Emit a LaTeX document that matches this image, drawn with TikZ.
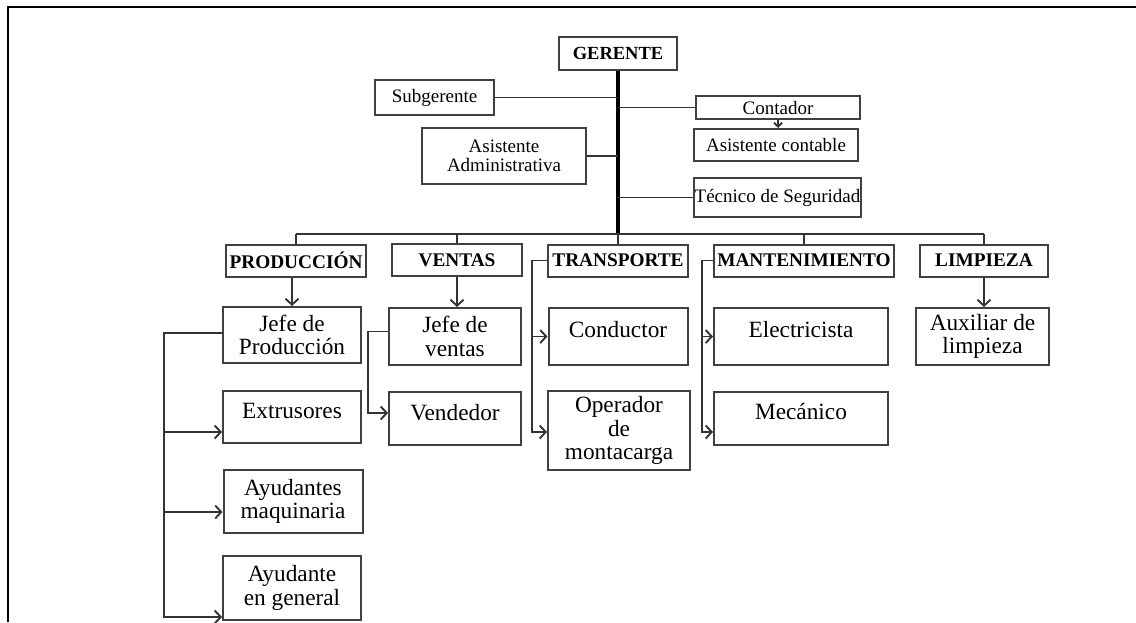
\documentclass[tikz,border=0pt]{standalone}
\usepackage{fontspec}
\setmainfont{Liberation Serif}
\usetikzlibrary{arrows.meta, positioning, calc}

\begin{document}
\begin{tikzpicture}[x=1pt, y=-1pt,
  box/.style={draw=black!75, line width=2pt, align=center, inner sep=1pt, font=\fontsize{19}{19}\selectfont},
  head/.style={box, font=\bfseries\fontsize{18.5}{20}\selectfont},
  dept/.style={box, minimum height=32pt, font=\bfseries\fontsize{19.3}{20}\selectfont},
  job/.style={box, font=\fontsize{23.3}{23.5}\selectfont},
  raised/.style={text depth=#1},
  link/.style={draw=black!80, line width=1.9pt},
  >={Straight Barb[length=6pt,width=13pt]}]
        \useasboundingbox (0,0) rectangle (1136,622);
        \draw[line width=2.5pt] (8,622) -- (8,7) -- (1136,7);

        % direccion
        \node[head, minimum width=118pt, minimum height=33pt] (ger) at (618,53.5) {GERENTE};
        \node[box, minimum width=119pt, minimum height=35pt] (sub) at (434.5,97.5) {Subgerente};
        \node[box, minimum width=164pt, minimum height=56pt] (asad) at (504,156) {Asistente\\Administrativa};
        \node[box, minimum width=164pt, minimum height=23pt] (cont) at (778,107.5) {Contador};
        \node[box, minimum width=164pt, minimum height=32pt] (asco) at (776,145) {Asistente contable};
        \node[box, minimum width=163pt, minimum height=39pt] (tec) at (777.5,197.5) {Técnico de Seguridad};

        \coordinate (bus) at (618,234);
        \draw[line width=3.2pt] (ger.south) -- (ger.south |- bus);
        \draw[link] (sub.east) -- (sub.east -| ger.south);
        \draw[link] (asad.east) -- (asad.east -| ger.south);
        \draw[link] (cont.west) -- (cont.west -| ger.south);
        \draw[link] (tec.west) -- (tec.west -| ger.south);
        \draw[link, -{Straight Barb[length=4pt,width=8pt]}] (cont.south) -- (cont.south |- asco.north);

        % departamentos
        \node[dept, minimum width=140pt] (prod) at (296,260.5) {PRODUCCIÓN};
        \node[dept, minimum width=130pt] (vent) at (457,260) {VENTAS};
        \node[dept, minimum width=140pt] (trans) at (618,260.5) {TRANSPORTE};
        \node[dept, minimum width=180pt] (mant) at (804,260.5) {MANTENIMIENTO};
        \node[dept, minimum width=128pt] (limp) at (984,260.5) {LIMPIEZA};

        \draw[link] (prod.north |- bus) -- (limp.north |- bus);
        \foreach \d in {prod, vent, trans, mant, limp}
            \draw[link] (\d.north |- bus) -- (\d.north);

        % puestos
        \node[job, minimum width=138pt, minimum height=56pt] (jprod) at (292,335) {Jefe de\\Producción};
        \node[job, minimum width=138pt, minimum height=52pt, raised=13pt] (extr) at (292,417) {Extrusores};
        \node[job, minimum width=139pt, minimum height=63pt] (ayma) at (293,501.5) {Ayudantes\\maquinaria};
        \node[job, minimum width=138pt, minimum height=64pt] (ayge) at (292,588) {Ayudante\\en general};

        \node[job, minimum width=132pt, minimum height=57pt] (jvent) at (455,336.5) {Jefe de\\ventas};
        \node[job, minimum width=132pt, minimum height=53pt, raised=13pt] (vend) at (455,418.5) {Vendedor};

        \node[job, minimum width=139pt, minimum height=57pt, raised=15pt] (cond) at (618,336.5) {Conductor};
        \node[job, minimum width=142pt, minimum height=79pt] (oper) at (619,430.5) {Operador\\de\\montacarga};

        \node[job, minimum width=174pt, minimum height=57pt, raised=15pt] (elec) at (801,336.5) {Electricista};
        \node[job, minimum width=174pt, minimum height=53pt, raised=15pt] (mec) at (801,418.5) {Mecánico};

        \node[job, minimum width=133pt, minimum height=57pt] (aux) at (982.5,336.5) {Auxiliar de\\limpieza};

        \draw[link, ->] (prod.south -| jprod.north) -- (jprod.north);
        \draw[link, ->] (vent.south) -- (vent.south |- jvent.north);
        \draw[link, ->] (limp.south) -- (limp.south |- aux.north);

        % ramas
        \coordinate (pbot) at (164,617);
        \coordinate (pe) at (164,432);
        \coordinate (pa) at (164,512);
        \draw[link, ->] ([yshift=2pt]jprod.west) -| (pbot) -- (pbot -| ayge.west);
        \draw[link, ->] (pe) -- (pe -| extr.west);
        \draw[link, ->] (pa) -- (pa -| ayma.west);

        \coordinate (vl) at (368,413);
        \draw[link, ->] ([yshift=5pt]jvent.west) -| (vl) -- (vl -| vend.west);

        \coordinate (tl) at (532,432);
        \draw[link, ->] (trans.west) -| (tl) -- (tl -| oper.west);
        \draw[link, ->] (tl |- cond.west) -- (cond.west);

        \coordinate (ml) at (702,432);
        \draw[link, ->] (mant.west) -| (ml) -- (ml -| mec.west);
        \draw[link, ->] (ml |- elec.west) -- (elec.west);
    \end{tikzpicture}
\end{document}
